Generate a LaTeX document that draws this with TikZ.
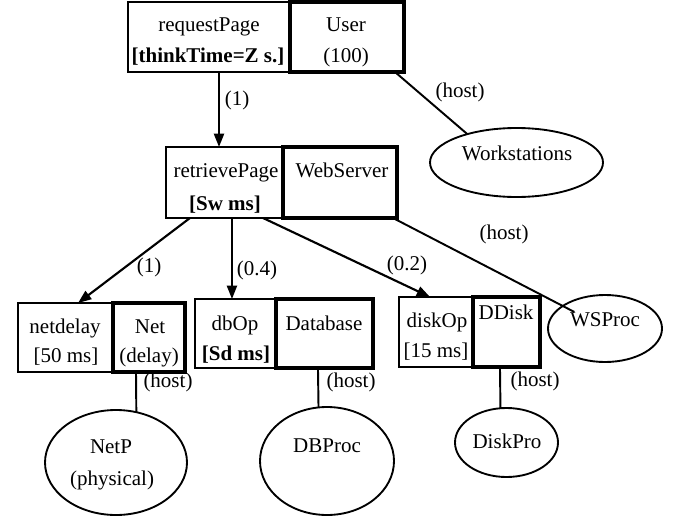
\documentclass[tikz,border=0pt]{standalone}
\usepackage{fontspec}
\setmainfont{Liberation Serif}
\usetikzlibrary{shapes.geometric,arrows.meta}

\begin{document}
\begin{tikzpicture}[x=0.75pt,y=-0.75pt,
  every node/.style={inner sep=0pt,outer sep=0pt},
  txt/.style={anchor=base,font=\fontsize{15.75}{19}\selectfont},
  taskbox/.style={draw,line width=1.3pt,rectangle},
  procbox/.style={draw,line width=3pt,rectangle},
  hostell/.style={draw,line width=1.4pt,ellipse,fill=white},
  arr/.style={line width=1.6pt,-{Triangle[length=10pt,width=7.5pt]}},
  hostln/.style={line width=1.45pt}]

\useasboundingbox (0,0) rectangle (681,517);

% task boxes (thin)
\node[taskbox,minimum width=121.5pt,minimum height=52.5pt] (req) at (209,37) {};
\node[taskbox,minimum width=87.75pt,minimum height=53.25pt] (retr) at (224.5,182.5) {};
\node[taskbox,minimum width=71.25pt,minimum height=51.75pt] (nd) at (65.5,337.5) {};
\node[taskbox,minimum width=60.75pt,minimum height=51.75pt] (dbop) at (235.5,333.5) {};
\node[taskbox,minimum width=55.5pt,minimum height=52.5pt] (dkop) at (436,332) {};

% processor boxes (thick)
\node[procbox,minimum width=85.5pt,minimum height=52.5pt] (user) at (347,37) {};
\node[procbox,minimum width=85.5pt,minimum height=53.25pt] (web) at (340,182.5) {};
\node[procbox,minimum width=54pt,minimum height=51.75pt] (net) at (149,337.5) {};
\node[procbox,minimum width=72.75pt,minimum height=51.75pt] (db) at (324.5,333.5) {};
\node[procbox,minimum width=50.25pt,minimum height=52.5pt] (dd) at (506.5,332) {};

% host ellipses
\node[hostell,minimum width=129.75pt,minimum height=51.75pt] (ws) at (516.5,162.5) {};
\node[hostell,minimum width=106.5pt,minimum height=78.75pt] (netp) at (116,462.5) {};
\node[hostell,minimum width=100.5pt,minimum height=81pt] (dbp) at (327,461) {};
\node[hostell,minimum width=77.25pt,minimum height=51.75pt] (dkp) at (506.5,442.5) {};

% host connectors
\draw[hostln] ([xshift=-6.75pt]user.south east) -- (ws.150);
\draw[hostln] ([xshift=-9.75pt]net.south) -- (netp.68.4);
\draw[hostln] ([xshift=-4.9pt]db.south) -- (dbp.99.5);
\draw[hostln] ([xshift=-4.9pt]dd.south) -- (dkp.100.8);

% WSProc ellipse, its host line ends inside it
\node[hostell,fill=none,minimum width=85.5pt,minimum height=50.25pt] (wsp) at (605,328.5) {};
\coordinate (wspend) at ([xshift=-23pt,yshift=12.4pt]wsp.center);
\draw[hostln] ([xshift=-3pt]web.south east) -- (wspend);

% call arrows
\draw[arr] ([xshift=7.5pt]req.south) -- ([xshift=7.5pt]req.south |- retr.north);
\draw[arr] ([xshift=-25.9pt]retr.south) -- ([xshift=9.4pt]nd.north);
\draw[arr] ([xshift=5.6pt]retr.south) -- ([xshift=5.6pt]retr.south |- dbop.north);
\draw[arr] ([xshift=28.9pt]retr.south) -- ([xshift=-4.5pt]dkop.north);

% texts
\node[txt] (t-req1) at (209,32) {requestPage};
\node[txt] (t-req2) at (208,63) {\textbf{[thinkTime=Z s.]}};
\node[txt] (t-user1) at (346,32) {User};
\node[txt] (t-user2) at (346,63) {(100)};
\node[txt] (t-retr1) at (226,177) {retrievePage};
\node[txt] (t-retr2) at (225,210) {\textbf{[Sw ms]}};
\node[txt] (t-web) at (342,177) {WebServer};
\node[txt] (t-nd1) at (65,333) {netdelay};
\node[txt] (t-nd2) at (66,362) {[50 ms]};
\node[txt] (t-net1) at (150,333) {Net};
\node[txt] (t-net2) at (149,362) {(delay)};
\node[txt] (t-dbop1) at (235,330) {dbOp};
\node[txt] (t-dbop2) at (236,360) {\textbf{[Sd ms]}};
\node[txt] (t-db) at (324,330) {Database};
\node[txt] (t-dkop1) at (437,327) {diskOp};
\node[txt] (t-dkop2) at (436,357) {[15 ms]};
\node[txt] (t-dd) at (506,319) {DDisk};
\node[txt] (t-ws) at (517,160) {Workstations};
\node[txt] (t-wsp) at (605,326) {WSProc};
\node[txt] (t-netp1) at (111,453) {NetP};
\node[txt] (t-netp2) at (112,485) {(physical)};
\node[txt] (t-dbp) at (327,452) {DBProc};
\node[txt] (t-dkp) at (507,448) {DiskPro};

% connector labels
\node[txt] (h1) at (460,97) {(host)};
\node[txt] (h2) at (504,239) {(host)};
\node[txt] (h3) at (168,387) {(host)};
\node[txt] (h4) at (351,387) {(host)};
\node[txt] (h5) at (535,386) {(host)};
\node[txt] (c1) at (237,105) {(1)};
\node[txt] (c2) at (149,272) {(1)};
\node[txt] (c3) at (257,275) {(0.4)};
\node[txt] (c4) at (407,270) {(0.2)};
\end{tikzpicture}
\end{document}
